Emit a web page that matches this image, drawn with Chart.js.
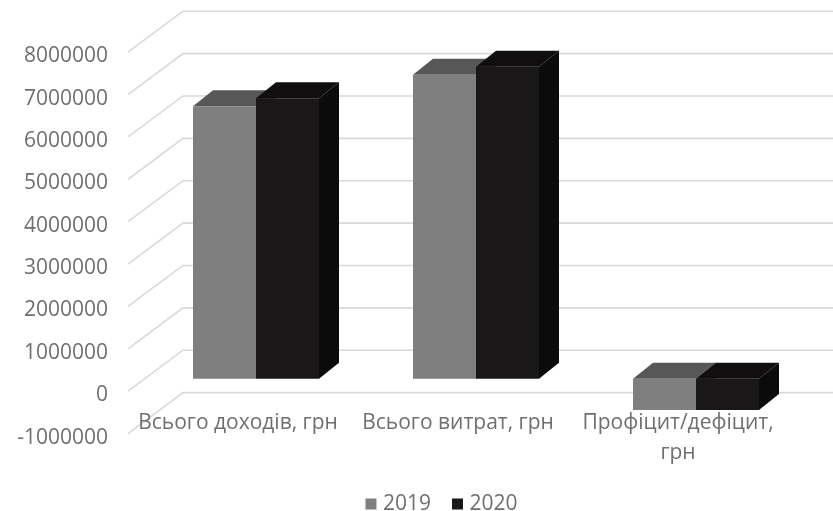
<!DOCTYPE html>
<html>
<head>
<meta charset="utf-8">
<script src="https://cdn.jsdelivr.net/npm/chart.js@4"></script>
<style>
  html, body { margin: 0; background: #fff; }
  #wrap { width: 833px; height: 511px; }
</style>
</head>
<body>
<div id="wrap"><canvas id="myChart"></canvas></div>
<script>
const categories = [['Всього доходів, грн'], ['Всього витрат, грн'], ['Профіцит/дефіцит,', 'грн']]
const values2019 = [6430000, 7170000, -740000]
const values2020 = [6620000, 7360000, -740000]
const yMin = -1000000
const yMax = 8000000
const yStep = 1000000

const textColor = '#6f6f6f'
const gridColor = '#d9d9d9'
const fontFamily = '"Open Sans", sans-serif'

// depth of the bars, and how far the walls reach in front of / behind them
const barDepth = { x: 20, y: 16 }
const wall = { frontX: 128, backX: 183, right: 833, frontY: 12.5, backY: -28.5 }

const faces = [
  { top: '#575757', side: '#6a6a6a' },
  { top: '#100e0e', side: '#0b0b0b' },
]

const poly = (ctx, color, pts) => {
  ctx.fillStyle = color
  ctx.beginPath()
  pts.forEach((p, i) => i ? ctx.lineTo(p[0], p[1]) : ctx.moveTo(p[0], p[1]))
  ctx.closePath()
  ctx.fill()
}

// ***** walls and fake 3d sides, the front faces are normal bars *****
const box3d = {
  id: 'box3d',
  // tick labels get clipped to the scale box, so widen the boxes
  afterLayout(chart) {
    chart.scales.y.left = 0
    chart.scales.x.top -= 16
  },
  // walls go under the axis labels
  beforeDraw(chart) {
    const ctx = chart.ctx
    const y = chart.scales.y
    ctx.save()
    ctx.strokeStyle = gridColor
    ctx.lineWidth = 1.6
    y.ticks.forEach(t => {
      const py = y.getPixelForValue(t.value)
      ctx.beginPath()
      ctx.moveTo(wall.frontX, py + wall.frontY)
      ctx.lineTo(wall.backX, py + wall.backY)
      ctx.lineTo(wall.right, py + wall.backY)
      ctx.stroke()
    })
    ctx.restore()
  },
  beforeDatasetsDraw(chart) {
    const ctx = chart.ctx
    ctx.save()
    chart.data.datasets.forEach((ds, i) => {
      chart.getDatasetMeta(i).data.forEach(bar => {
        const l = bar.x - bar.width / 2
        const r = bar.x + bar.width / 2
        const hi = Math.min(bar.y, bar.base)
        const lo = Math.max(bar.y, bar.base)
        const dx = barDepth.x
        const dy = barDepth.y
        poly(ctx, faces[i].side, [[r, hi], [r + dx, hi - dy], [r + dx, lo - dy], [r, lo]])
        poly(ctx, faces[i].top, [[l, hi], [r, hi], [r + dx, hi - dy], [l + dx, hi - dy]])
      })
    })
    ctx.restore()
  }
}

const ctx = document.getElementById('myChart').getContext('2d')
const myChart = new Chart(ctx, {
  type: 'bar',
  plugins: [box3d],
  data: {
    labels: categories,
    datasets: [
      { label: '2019', data: values2019, backgroundColor: '#7f7f7f' },
      { label: '2020', data: values2020, backgroundColor: '#1a1718' },
    ]
  },
  options: {
    responsive: true,
    maintainAspectRatio: false,
    animation: false,
    layout: { padding: { top: 39.7, left: 81, right: 27, bottom: -13.5 } },
    datasets: { bar: { categoryPercentage: 0.5727, barPercentage: 1 } },
    scales: {
      x: {
        grid: { display: false, drawTicks: false },
        border: { display: false },
        afterFit: s => { s.height = 47.4 },
        ticks: {
          color: textColor,
          padding: 3,
          labelOffset: -18,
          maxRotation: 0,
          font: { family: fontFamily, size: 21, lineHeight: 1.43 }
        }
      },
      y: {
        min: yMin,
        max: yMax,
        grid: { display: false, drawTicks: false },
        border: { display: false },
        afterFit: s => {
          s.width = 65
          s.paddingTop = 0
          s.paddingBottom = 0
        },
        ticks: {
          stepSize: yStep,
          color: textColor,
          padding: 38,
          labelOffset: 16.5,
          callback: v => String(v),
          font: { family: fontFamily, size: 21 }
        }
      }
    },
    plugins: {
      tooltip: { enabled: false },
      legend: {
        position: 'bottom',
        labels: {
          color: textColor,
          padding: 25,
          usePointStyle: true,
          pointStyle: 'rect',
          boxWidth: 3,
          boxHeight: 11,
          font: { family: fontFamily, size: 21 }
        }
      }
    }
  }
})
</script>
</body>
</html>
